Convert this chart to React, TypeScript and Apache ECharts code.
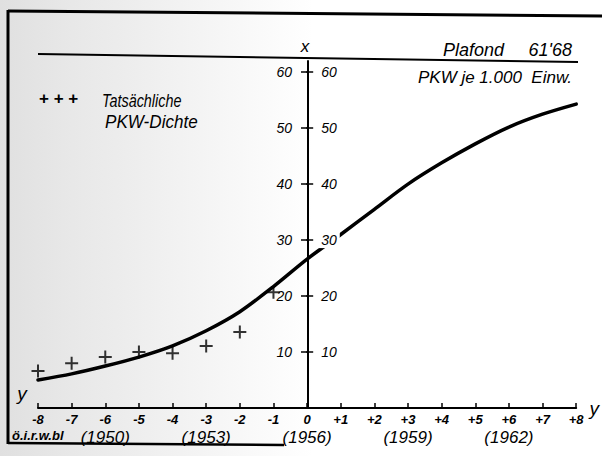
import { useEffect, useRef } from 'react';
import * as echarts from 'echarts';

const periods = [-8, -7, -6, -5, -4, -3, -2, -1, 0, 1, 2, 3, 4, 5, 6, 7, 8];
const trendValues = [5.0, 6.1, 7.5, 9.1, 11.1, 13.8, 17.2, 21.7, 26.6, 31.0, 35.5, 40.0, 43.8, 47.2, 50.2, 52.5, 54.3];
const actualPeriods = [-8, -7, -6, -5, -4, -3, -2, -1];
const actualValues = [6.6, 8.0, 9.1, 10.0, 9.8, 11.1, 13.6, 20.7];
const yTicks = [10, 20, 30, 40, 50, 60];
const xTicks = [-8, -7, -6, -5, -4, -3, -2, -1, 0, 1, 2, 3, 4, 5, 6, 7, 8];
const yearTicks = [-6, -3, 0, 3, 6];
const yearLabels = ['(1950)', '(1953)', '(1956)', '(1959)', '(1962)'];

export default function App() {
  const ref = useRef<HTMLDivElement>(null);
  useEffect(() => {
    document.body.style.margin = '0';
    const chart = echarts.init(ref.current!, null, { renderer: 'svg' });
    const font = 'Liberation Sans';
    const lbl = { fontFamily: font, fontStyle: 'italic', color: '#000' };
    const crossPath = 'path://M5.5,0H7.5V5.5H13V7.5H7.5V13H5.5V7.5H0V5.5H5.5Z';
    const gridLeft = 38;
    const gridWidth = 540;
    const yOffset = -gridWidth / 2;
    chart.setOption({
      animation: false,
      backgroundColor: '#fff',
      grid: { left: gridLeft, right: 602 - gridLeft - gridWidth, top: 61, bottom: 48 },
      xAxis: [
        {
          type: 'value', min: -8, max: 8, interval: 1,
          name: 'y', nameLocation: 'end', nameGap: 5,
          nameTextStyle: { ...lbl, fontSize: 19, verticalAlign: 'middle' },
          axisLine: { show: true, onZero: false, lineStyle: { color: '#000', width: 2 } },
          axisTick: { show: true, inside: true, length: 5, lineStyle: { color: '#000', width: 1.5 }, customValues: xTicks },
          axisLabel: {
            ...lbl, fontSize: 13, fontWeight: 'bold', margin: 5, customValues: xTicks,
            formatter: (v: number) => (v > 0 ? '+' + v : String(v)),
          },
          splitLine: { show: false },
        },
        {
          type: 'value', min: -8, max: 8, position: 'bottom', offset: 19,
          axisLine: { show: false, onZero: false },
          axisTick: { show: false },
          axisLabel: {
            ...lbl, fontSize: 17, margin: 2, customValues: yearTicks,
            formatter: (v: number) => yearLabels[yearTicks.indexOf(v)] ?? '',
          },
          splitLine: { show: false },
        },
      ],
      yAxis: [
        {
          type: 'value', min: 0, max: 62, position: 'left', offset: yOffset,
          axisLine: { show: true, onZero: false, lineStyle: { color: '#000', width: 2 } },
          axisTick: { show: true, length: 7, lineStyle: { color: '#000', width: 1.5 }, customValues: yTicks },
          axisLabel: { ...lbl, fontSize: 14, margin: 16, customValues: yTicks },
          splitLine: { show: false },
        },
        {
          type: 'value', min: 0, max: 62, position: 'right', offset: yOffset, z: 5,
          axisLine: { show: false, onZero: false },
          axisTick: { show: true, length: 7, lineStyle: { color: '#000', width: 1.5 }, customValues: yTicks },
          axisLabel: { ...lbl, fontSize: 14, margin: 12, customValues: yTicks, backgroundColor: '#fff', padding: [1, 3] },
          splitLine: { show: false },
        },
      ],
      series: [
        {
          type: 'line', smooth: 0.3, showSymbol: false, symbol: 'none',
          data: periods.map((p, i) => [p, trendValues[i]]),
          lineStyle: { color: '#000', width: 3.5, cap: 'round' },
          z: 3,
        },
        {
          type: 'scatter', symbol: crossPath, symbolSize: 13,
          data: actualPeriods.map((p, i) => [p, actualValues[i]]),
          itemStyle: { color: '#000' },
          z: 4,
        },
      ],
      graphic: [
        {
          type: 'rect', z: -10, silent: true,
          shape: { x: 0, y: 0, width: 602, height: 456 },
          style: {
            fill: {
              type: 'linear', x: 0, y: 0, x2: 1, y2: 0,
              colorStops: [
                { offset: 0, color: '#e0e0e0' },
                { offset: 0.12, color: '#e8e8e8' },
                { offset: 0.3, color: '#f2f2f2' },
                { offset: 0.45, color: '#fbfbfb' },
                { offset: 0.52, color: '#ffffff' },
                { offset: 1, color: '#ffffff' },
              ],
            },
          },
        },
        { type: 'line', z: 10, shape: { x1: 8, y1: 11, x2: 602, y2: 16 }, style: { stroke: '#000', lineWidth: 3 } },
        { type: 'line', z: 10, shape: { x1: 8, y1: 10, x2: 8, y2: 444 }, style: { stroke: '#000', lineWidth: 3 } },
        { type: 'line', z: 10, shape: { x1: 8, y1: 443, x2: 284, y2: 445 }, style: { stroke: '#000', lineWidth: 2.5 } },
        { type: 'line', z: 10, shape: { x1: 38, y1: 54, x2: 578, y2: 62 }, style: { stroke: '#000', lineWidth: 2 } },
        { type: 'text', z: 10, x: 305, y: 46, style: { text: 'x', font: `italic 17px "${font}"`, fill: '#000', align: 'center', verticalAlign: 'middle' } },
        { type: 'text', z: 10, x: 443, y: 50, style: { text: 'Plafond', font: `italic 18px "${font}"`, fill: '#000', align: 'left', verticalAlign: 'middle' } },
        { type: 'text', z: 10, x: 572, y: 50, style: { text: "61'68", font: `italic 18px "${font}"`, fill: '#000', align: 'right', verticalAlign: 'middle' } },
        { type: 'text', z: 10, x: 572, y: 77, style: { text: 'PKW je 1.000  Einw.', font: `italic 17px "${font}"`, fill: '#000', align: 'right', verticalAlign: 'middle' } },
        { type: 'text', z: 10, x: 39, y: 98, style: { text: '+ + +', font: `bold 17px "${font}"`, fill: '#000', verticalAlign: 'middle' } },
        { type: 'text', z: 10, x: 102, y: 100, scaleX: 0.8, scaleY: 1, style: { text: 'Tatsächliche', font: `italic 18px "${font}"`, fill: '#000', verticalAlign: 'middle' } },
        { type: 'text', z: 10, x: 105, y: 122, scaleX: 0.95, scaleY: 1, style: { text: 'PKW-Dichte', font: `italic 18px "${font}"`, fill: '#000', verticalAlign: 'middle' } },
        { type: 'text', z: 10, x: 22, y: 393, style: { text: 'y', font: `italic 19px "${font}"`, fill: '#000', align: 'center', verticalAlign: 'middle' } },
        { type: 'text', z: 10, x: 12, y: 435, style: { text: 'ö.i.r.w.bl', font: `italic bold 13px "${font}"`, fill: '#000', verticalAlign: 'middle' } },
      ],
    });
    return () => chart.dispose();
  }, []);
  return <div ref={ref} style={{ width: 602, height: 456 }} />;
}
